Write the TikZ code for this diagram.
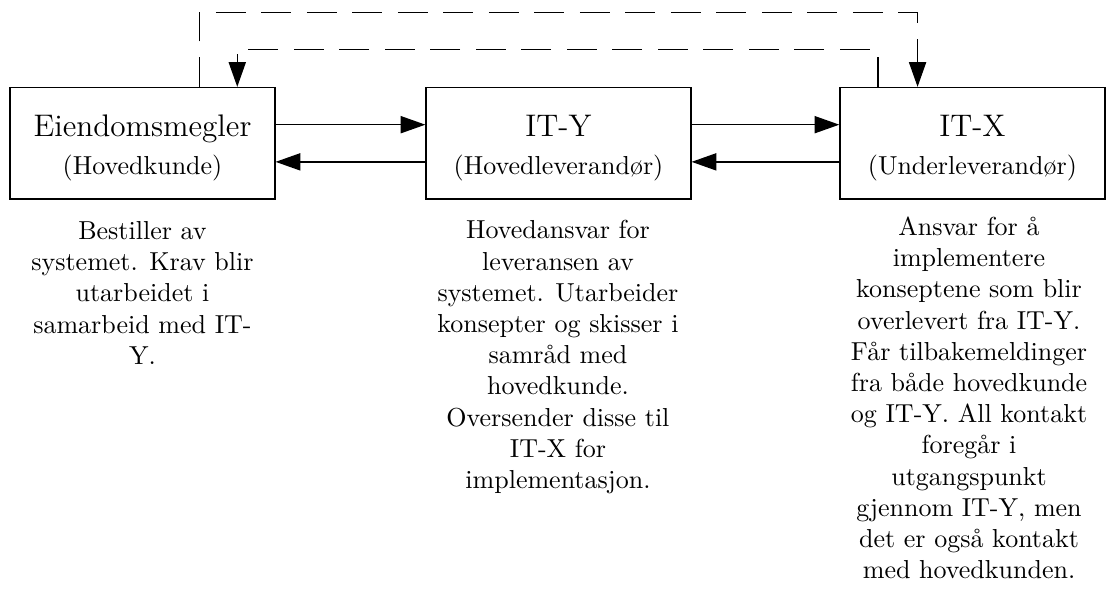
\documentclass[tikz,border=0pt]{standalone}
\usetikzlibrary{arrows.meta,calc}
\begin{document}
\begin{tikzpicture}[x=1pt,y=1pt,
  party/.style={draw, line width=0.5pt, minimum width=101.9pt, minimum height=42.9pt,
    inner sep=0pt, align=center},
  flow/.style={-{Triangle[length=9.5pt,width=6.6pt]}, line width=0.5pt},
  feedback/.style={flow, dash pattern=on 11.5pt off 6pt},
  note/.style={anchor=north, inner sep=0pt, align=center}]
\useasboundingbox (0,0) rectangle (425.38,-231.15);

% the three parties
\node[party] (kunde)  at (54.8,-55.1)
  {{\large\rule{0pt}{12pt}Eiendomsmegler}\\[2.5pt](Hovedkunde)};
\node[party] (hovedl) at (214.8,-55.1)
  {{\large\rule{0pt}{12pt}IT-Y}\\[2.5pt](Hovedleverandør)};
\node[party] (underl) at (374.0,-55.1)
  {{\large\rule{0pt}{12pt}IT-X}\\[2.5pt](Underleverandør)};

% direct exchange between neighbours
\draw[flow] ([yshift=7.15pt]kunde.east)   -- ([yshift=7.15pt]hovedl.west);
\draw[flow] ([yshift=-7.15pt]hovedl.west) -- ([yshift=-7.15pt]kunde.east);
\draw[flow] ([yshift=7.15pt]hovedl.east)  -- ([yshift=7.15pt]underl.west);
\draw[flow] ([yshift=-7.15pt]underl.west) -- ([yshift=-7.15pt]hovedl.east);

% direct contact between the customer and the subcontractor
\coordinate (o1) at ($(kunde.north west)!0.713!(kunde.north east)$);
\coordinate (o2) at ($(underl.north west)!0.294!(underl.north east)$);
\coordinate (i1) at ($(underl.north west)!0.145!(underl.north east)$);
\coordinate (i2) at ($(kunde.north west)!0.856!(kunde.north east)$);
\draw[feedback] (o1) -- ++(0,28.55) -| (o2);
\draw[feedback] (i1) -- ++(0,14.35) -| (i2);

% roles
\node[note] (n1) at (54.8,-85.0)
  {Bestiller av\\systemet. Krav blir\\utarbeidet i\\samarbeid med IT-\\Y.};
\node[note] (n2) at (214.6,-84.6)
  {Hovedansvar for\\leveransen av\\systemet. Utarbeider\\konsepter og skisser i\\samråd med\\hovedkunde.\\Oversender disse til\\IT-X for\\implementasjon.};
\node[note] (n3) at (372.7,-83.2)
  {Ansvar for å\\implementere\\konseptene som blir\\overlevert fra IT-Y.\\Får tilbakemeldinger\\fra både hovedkunde\\og IT-Y. All kontakt\\foregår i\\utgangspunkt\\gjennom IT-Y, men\\det er også kontakt\\med hovedkunden.};
\end{tikzpicture}
\end{document}
